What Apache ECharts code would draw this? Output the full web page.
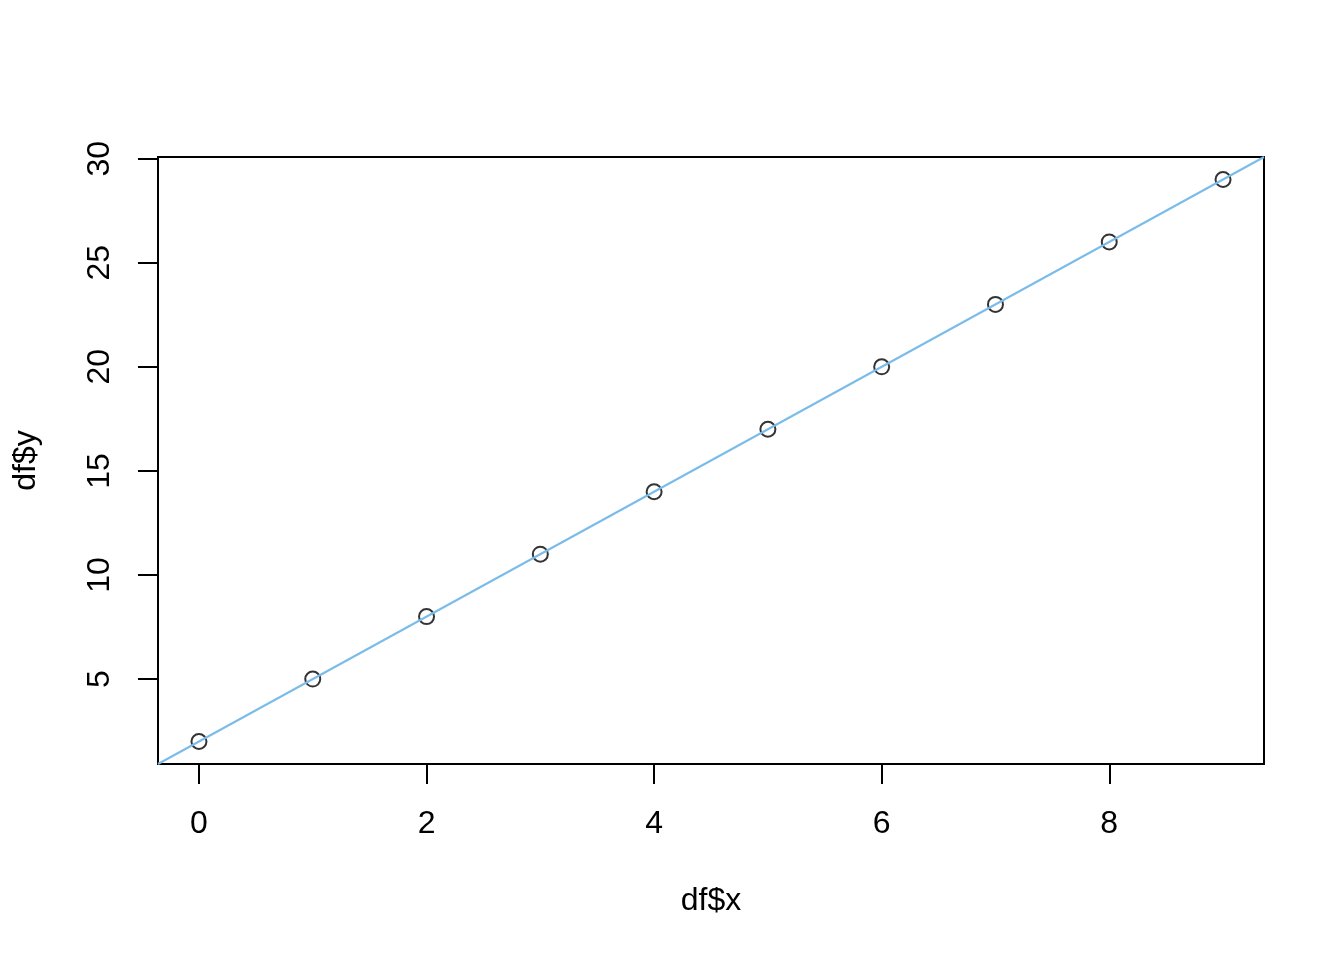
<!DOCTYPE html>
<html>
<head>
<meta charset="utf-8">
<script src="https://cdn.jsdelivr.net/npm/echarts@6/dist/echarts.min.js"></script>
<style>
html,body{margin:0;padding:0;background:#fff;}
#chart{width:1344px;height:960px;}
</style>
</head>
<body>
<div id="chart"></div>
<script>
// Data
const xValues = [0, 1, 2, 3, 4, 5, 6, 7, 8, 9];
const yValues = [2, 5, 8, 11, 14, 17, 20, 23, 26, 29];
const xTicks = [0, 2, 4, 6, 8];
const yTicks = [5, 10, 15, 20, 25, 30];
const fitIntercept = 2;
const fitSlope = 3;
const xAxisTitle = 'df$x';
const yAxisTitle = 'df$y';

// R-style 4% axis range extension
function extend(arr) {
  const lo = Math.min(...arr), hi = Math.max(...arr);
  const d = (hi - lo) * 0.04;
  return [lo - d, hi + d];
}
const [xMin, xMax] = extend(xValues);
const [yMin, yMax] = extend(yValues);

const points = xValues.map((x, i) => [x, yValues[i]]);
const fitLine = [xMin, xMax].map(x => [x, fitIntercept + fitSlope * x]);

const font = '"Liberation Sans", Arial, Helvetica, sans-serif';
const chart = echarts.init(document.getElementById('chart'), null, {renderer: 'canvas'});
chart.setOption({
  backgroundColor: '#ffffff',
  animation: false,
  grid: {
    left: 158, right: 80, top: 157, bottom: 196,
    show: true, borderColor: '#000000', borderWidth: 2, backgroundColor: 'transparent'
  },
  xAxis: {
    type: 'value', min: xMin, max: xMax,
    name: xAxisTitle, nameLocation: 'middle', nameGap: 121,
    nameTextStyle: {fontSize: 32, color: '#000', fontFamily: font},
    axisLine: {show: false, onZero: false},
    splitLine: {show: false},
    axisTick: {show: true, length: 20, inside: false, customValues: xTicks,
      lineStyle: {color: '#000', width: 2}},
    axisLabel: {show: true, margin: 44, fontSize: 32, color: '#000', fontFamily: font,
      customValues: xTicks, showMinLabel: true, showMaxLabel: true}
  },
  yAxis: {
    type: 'value', min: yMin, max: yMax,
    name: yAxisTitle, nameLocation: 'middle', nameGap: 116, nameRotate: 90,
    nameTextStyle: {fontSize: 32, color: '#000', fontFamily: font},
    axisLine: {show: false, onZero: false},
    splitLine: {show: false},
    axisTick: {show: true, length: 20, inside: false, customValues: yTicks,
      lineStyle: {color: '#000', width: 2}},
    axisLabel: {show: true, margin: 42, rotate: 90, fontSize: 32, color: '#000', fontFamily: font,
      customValues: yTicks, showMinLabel: true, showMaxLabel: true}
  },
  series: [
    {
      type: 'scatter', data: points, symbol: 'circle', symbolSize: 15, z: 2,
      itemStyle: {color: 'rgba(0,0,0,0)', borderColor: '#000', borderWidth: 2},
      emphasis: {disabled: true}
    },
    {
      type: 'line', data: fitLine, showSymbol: false, symbol: 'none', z: 3,
      lineStyle: {color: '#7ABCE9', width: 2},
      emphasis: {disabled: true}
    }
  ]
});
</script>
</body>
</html>
